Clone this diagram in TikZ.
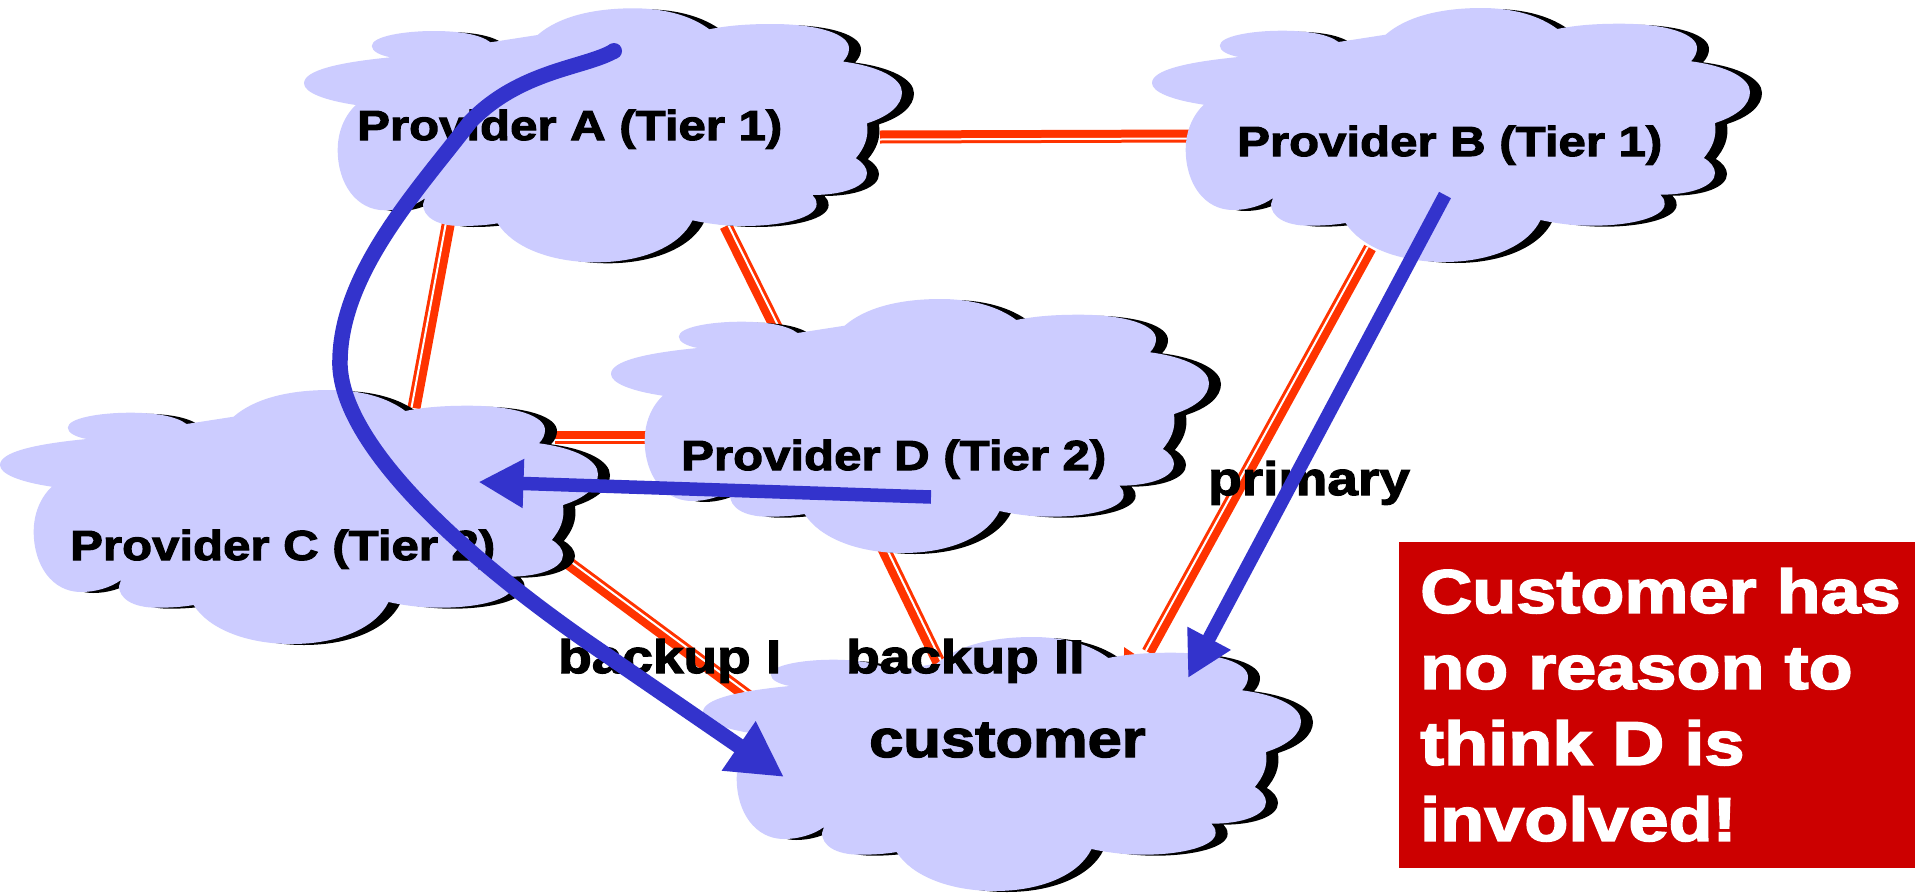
\documentclass[tikz,border=0pt]{standalone}
\usepackage{fontspec}
\usetikzlibrary{calc,arrows.meta}
\newfontfamily\lblfont{Liberation Sans}[FakeStretch=1.17,FakeBold=2.6]
\newcommand{\lf}[1]{\lblfont\bfseries\fontsize{#1}{#1}\selectfont}
\definecolor{cloudfill}{HTML}{CCCCFF}
\definecolor{linkred}{HTML}{FF3300}
\definecolor{arrowblue}{HTML}{3333CC}
\definecolor{boxred}{HTML}{CC0000}
\newcommand{\cloudoutline}{(86.7,49) .. controls (76,47) and (67.8,43) .. (67.8,37.7) .. controls (67.8,28) and (100,22.7) .. (130,22.7) .. controls (155,22.7) and (176,26) .. (186.5,34) -- (233.6,26.7) .. controls (255,8) and (290,0) .. (329.5,0) .. controls (362,0) and (388,8) .. (405.3,21) .. controls (425,17) and (445,15.7) .. (468,15.7) .. controls (515,15.7) and (545,26) .. (545,40) .. controls (545,45) and (543,49) .. (539,53.3) .. controls (575,58) and (598,70) .. (598,84) .. controls (598,97) and (585,108) .. (563,115) .. controls (565,130) and (560,140) .. (551.8,150) .. controls (559,154) and (563,160) .. (563,165) .. controls (563,178) and (540,186.7) .. (508.4,186.7) .. controls (511,189) and (512.6,192) .. (512.6,196) .. controls (512.6,209) and (480,217.7) .. (440,217.7) .. controls (420,217.7) and (402,215) .. (388.5,212) .. controls (376,238) and (338,254) .. (292,254) .. controls (245,254) and (208,238) .. (193.6,215) .. controls (182,217) and (170,217.7) .. (157,217.7) .. controls (132,217.7) and (119,208) .. (119,196) -- (121,190) .. controls (110,198) and (95,202) .. (81,202) .. controls (52,202) and (33.7,175) .. (33.7,141.7) .. controls (33.7,124) and (40,108) .. (51.8,96.7) .. controls (20,92) and (0,84) .. (0,75) .. controls (0,62) and (35,54) .. (86.7,49) -- cycle}
\tikzset{
  cloudpic/.pic={
    \fill[black,xshift=12pt,yshift=-1pt] \cloudoutline;
    \fill[cloudfill] \cloudoutline;
  },
  redlink/.style={draw=linkred,line width=13pt},
  whitelink/.style={draw=white,line width=2pt},
  lbl/.style={anchor=base west,inner sep=0pt,text=black},
  bluecurve/.style={draw=arrowblue,line width=15.5pt,-{Triangle[length=55pt,width=56pt]}},
  bluestraight/.style={draw=arrowblue,line width=13.5pt,-{Triangle[length=45pt,width=46pt]}},
}
\newcommand{\redconn}[2]{%
  \draw[redlink] (#1) -- (#2);
  \draw[whitelink] ($(#1)!2.5pt!90:(#2)$) -- ($(#2)!2.5pt!-90:(#1)$);}
\begin{document}
\begin{tikzpicture}[x=1pt,y=-1pt]
\useasboundingbox (0,0) rectangle (1915,892);
\fill[white] (0,0) rectangle (1915,892);
% link ends
\coordinate (lBA) at (1200,136);
\coordinate (lAB) at (880,137);
\coordinate (lCA) at (414,408);
\coordinate (lAC) at (449,220);
\coordinate (lAD) at (726,226);
\coordinate (lDA) at (780,335);
\coordinate (lDC) at (650,437);
\coordinate (lCD) at (555,437);
\coordinate (lCK) at (555,553);
\coordinate (lKC) at (760,705);
\coordinate (lDK) at (870,520);
\coordinate (lKD) at (950,685);
\coordinate (lKB) at (1148,652);
\coordinate (lBK) at (1370,248);
\redconn{lBA}{lAB}
\redconn{lCA}{lAC}
\redconn{lAD}{lDA}
\redconn{lDC}{lCD}
\redconn{lCK}{lKC}
\redconn{lDK}{lKD}
\redconn{lKB}{lBK}
% clouds
\pic (cloudA) at (304,8.3) {cloudpic};
\pic (cloudB) at (1152,8) {cloudpic};
\pic (cloudD) at (611,299) {cloudpic};
\pic (cloudC) at (0,390) {cloudpic};
\fill[linkred] (1124,647) -- (1136,655) -- (1124,656) -- cycle;
\pic (cloudK) at (703,637) {cloudpic};
% labels
\node[lbl,font=\lf{42}] (tA) at (357,140) {Provider A (Tier 1)};
\node[lbl,font=\lf{42}] (tB) at (1237,156) {Provider B (Tier 1)};
\node[lbl,font=\lf{42}] (tC) at (70,560) {Provider C (Tier 2)};
\node[lbl,font=\lf{42}] (tD) at (681,470) {Provider D (Tier 2)};
\node[lbl,font=\lf{52.5}] (tK) at (869,757) {customer};
\node[lbl,font=\lf{47}] (tP) at (1208,495) {primary};
\node[lbl,font=\lf{47}] (tB1) at (558,673) {backup I};
\node[lbl,font=\lf{47}] (tB2) at (846,673) {backup II};
% message box
\node[anchor=north west,inner sep=0pt,minimum width=517pt,minimum height=326pt,fill=boxred] (msgbox) at (1398.4,542) {};
\node[anchor=north west,inner sep=0pt,text=white,align=left,font=\lblfont\bfseries\fontsize{61.6}{76}\selectfont] (msg) at (1420,568) {Customer has\\no reason to\\think D is\\involved!};
% blue arrows
\coordinate (bcS) at (614,51);
\coordinate (bcT) at (784,777);
\fill[arrowblue] (bcS) circle (8pt);
\draw[bluecurve] (bcS) .. controls (585,68) and (520,70) .. (470,122) .. controls (418,190) and (338,275) .. (340,366) .. controls (344,450) and (470,560) .. (586,641) -- (bcT);
\coordinate (bdS) at (931,497);
\coordinate (bdT) at (478.5,482);
\draw[bluestraight] (bdS) -- (bdT);
\coordinate (bbS) at (1445,195);
\coordinate (bbT) at (1188,678);
\draw[bluestraight] (bbS) -- (bbT);
\end{tikzpicture}
\end{document}
